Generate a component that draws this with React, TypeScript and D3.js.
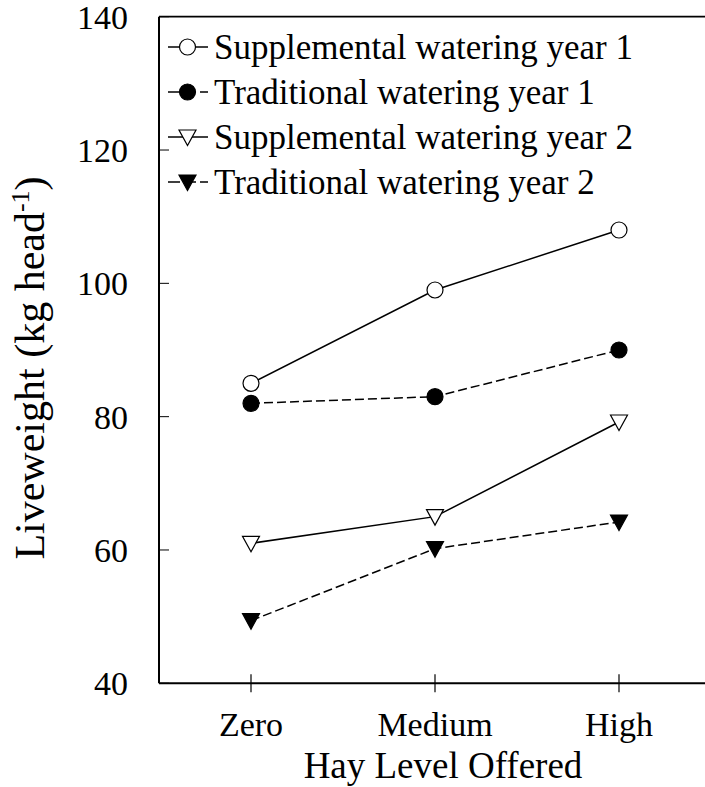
import React from "react";
import * as d3 from "d3";

const categories = ["Zero", "Medium", "High"];
const yTicks = [40, 60, 80, 100, 120, 140];
const suppYear1 = [85, 99, 108];
const tradYear1 = [82, 83, 90];
const suppYear2 = [61, 65, 79.2];
const tradYear2 = [49.4, 60.2, 64.2];
const seriesNames = [
  "Supplemental watering year 1",
  "Traditional watering year 1",
  "Supplemental watering year 2",
  "Traditional watering year 2",
];

const W = 705;
const H = 787;
const FONT = "'Liberation Serif', 'Times New Roman', serif";

type Series = { name: string; values: number[]; marker: "circle" | "triangle"; filled: boolean; dashed: boolean };

export default function App() {
  const x = d3.scalePoint<string>().domain(categories).range([251, 619]);
  const y = d3.scaleLinear().domain([40, 140]).range([683.3, 16.7]);
  const left = 159;
  const right = 705;

  const series: Series[] = [
    { name: seriesNames[0], values: suppYear1, marker: "circle", filled: false, dashed: false },
    { name: seriesNames[1], values: tradYear1, marker: "circle", filled: true, dashed: true },
    { name: seriesNames[2], values: suppYear2, marker: "triangle", filled: false, dashed: false },
    { name: seriesNames[3], values: tradYear2, marker: "triangle", filled: true, dashed: true },
  ];

  const line = d3
    .line<number>()
    .x((_, i) => x(categories[i]) as number)
    .y((d) => y(d));

  const marker = (s: Series, cx: number, cy: number, key: string) => {
    if (s.marker === "circle") {
      return (
        <circle key={key} cx={cx} cy={cy} r={8} fill={s.filled ? "#000" : "#fff"} stroke="#000" strokeWidth={1.2} />
      );
    }
    const p = d3.path();
    p.moveTo(cx - 8.5, cy - 7);
    p.lineTo(cx + 8.5, cy - 7);
    p.lineTo(cx, cy + 8.5);
    p.closePath();
    return (
      <path key={key} d={p.toString()} fill={s.filled ? "#000" : "#fff"} stroke="#000" strokeWidth={1.2} />
    );
  };

  const legendY = [47, 92, 137, 182];

  return (
    <svg
      width={W}
      height={H}
      style={{ position: "absolute", left: 0, top: 0, background: "#fff" }}
      fontFamily={FONT}
    >
      <rect x={0} y={0} width={W} height={H} fill="#fff" />
      {/* frame */}
      <line x1={left} x2={left} y1={y(140)} y2={y(40)} stroke="#000" strokeWidth={2} />
      <line x1={left} x2={right} y1={y(40)} y2={y(40)} stroke="#000" strokeWidth={2} />
      <line x1={left} x2={right} y1={y(140)} y2={y(140)} stroke="#000" strokeWidth={1.8} />

      {/* y ticks */}
      {yTicks.map((t) => (
        <g key={t}>
          <line x1={left} x2={left + 10} y1={y(t)} y2={y(t)} stroke="#000" strokeWidth={1} />
          <text x={128} y={y(t)} dy="0.35em" textAnchor="end" fontSize={34}>
            {t}
          </text>
        </g>
      ))}

      {/* x ticks */}
      {categories.map((c) => (
        <g key={c}>
          <line x1={x(c)} x2={x(c)} y1={y(40) - 9} y2={y(40) + 9} stroke="#000" strokeWidth={1.2} />
          <text x={x(c)} y={736} textAnchor="middle" fontSize={34}>
            {c}
          </text>
        </g>
      ))}

      <text x={443} y={778} textAnchor="middle" fontSize={37}>
        Hay Level Offered
      </text>

      <text transform={`translate(44, 368) rotate(-90)`} textAnchor="middle" fontSize={42}>
        Liveweight (kg head
        <tspan fontSize={26} dy={-15}>-1</tspan>
        <tspan dy={15}>)</tspan>
      </text>

      {/* series */}
      {series.map((s, si) => (
        <g key={si}>
          <path
            d={line(s.values) ?? ""}
            fill="none"
            stroke="#000"
            strokeWidth={1.5}
            strokeDasharray={s.dashed ? "9,4" : undefined}
          />
          {s.values.map((v, i) => marker(s, x(categories[i]) as number, y(v), `${si}-${i}`))}
        </g>
      ))}

      {/* legend */}
      {series.map((s, si) => (
        <g key={`lg${si}`}>
          <line
            x1={168}
            x2={208}
            y1={legendY[si]}
            y2={legendY[si]}
            stroke="#000"
            strokeWidth={1.5}
            strokeDasharray={s.dashed ? "12,4" : undefined}
          />
          {marker(s, 187.5, legendY[si], `lm${si}`)}
          <text x={214} y={legendY[si] + 12} fontSize={35}>
            {s.name}
          </text>
        </g>
      ))}
    </svg>
  );
}
